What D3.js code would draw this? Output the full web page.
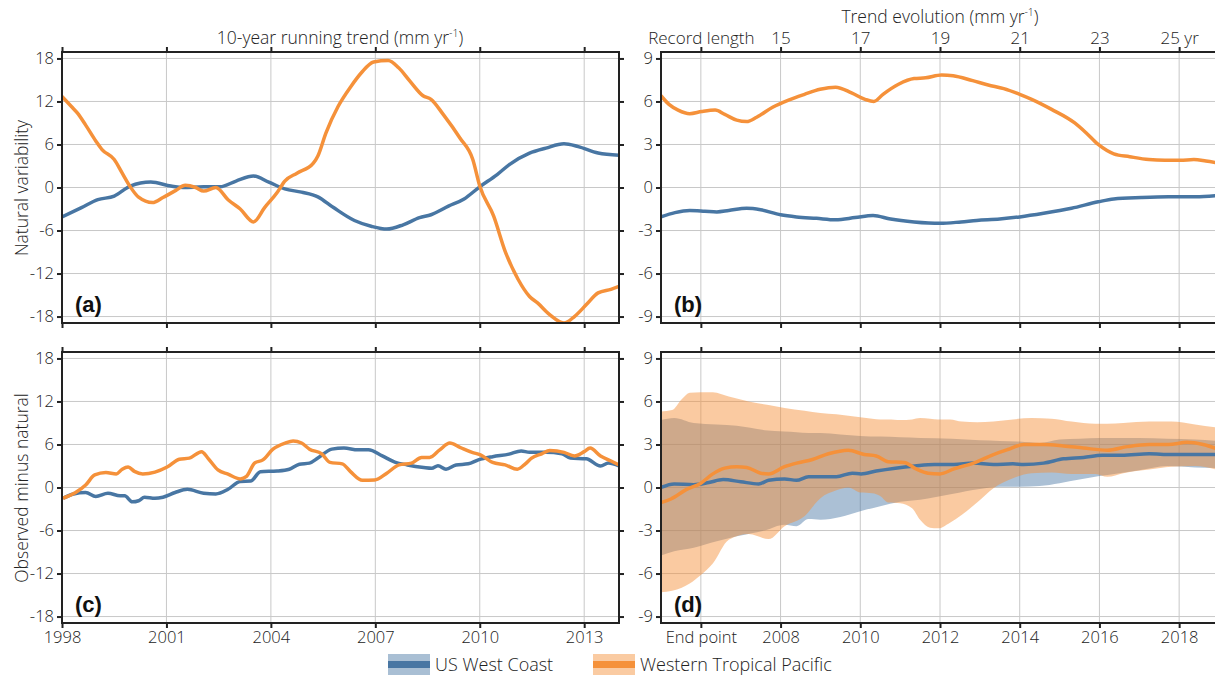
<!DOCTYPE html>
<html>
<head>
<meta charset="utf-8">
<script src="https://cdn.jsdelivr.net/npm/d3@7"></script>
<style>
  body { margin: 0; background: #fff; }
  text { font-family: "Open Sans", Lato, sans-serif; font-weight: 300; fill: #222; }
</style>
</head>
<body>
<script>
// ---- data ----
// panel (a): natural variability of 10-yr running trend
var aWestX = [1998.0,1998.56,1999.03,1999.5,1999.96,2000.55,2001.13,2001.48,2002.07,2002.54,2003.0,2003.5,2003.94,2004.4,2004.88,2005.35,2005.8,2006.4,2006.88,2007.33,2007.8,2008.27,2008.6,2009.1,2009.55,2010.0,2010.5,2010.85,2011.43,2011.9,2012.42,2012.83,2013.4,2014.0];
var aWestY = [-4.1,-2.8,-1.7,-1.2,0.2,0.75,0.2,0,0.1,0.1,0.9,1.6,0.75,-0.2,-0.65,-1.3,-2.8,-4.6,-5.4,-5.8,-5.2,-4.2,-3.8,-2.6,-1.6,0.1,1.8,3.2,4.8,5.5,6.1,5.7,4.8,4.5];
var aWtpX = [1998.0,1998.27,1998.44,1998.68,1998.97,1999.15,1999.5,1999.73,1999.96,2000.2,2000.6,2000.9,2001.27,2001.54,2001.84,2002.07,2002.42,2002.77,2003.12,2003.5,2003.82,2004.18,2004.4,2004.75,2005.22,2005.35,2005.58,2005.93,2006.3,2006.6,2006.95,2007.37,2007.67,2008.0,2008.37,2008.6,2008.95,2009.43,2009.8,2010.0,2010.4,2010.73,2011.1,2011.43,2011.66,2012.0,2012.42,2012.72,2013.07,2013.4,2013.77,2014.0];
var aWtpY = [12.7,11.3,10.4,8.7,6.5,5.3,3.9,2.0,0.1,-1.35,-2.1,-1.4,-0.4,0.3,0,-0.5,0,-1.7,-3.0,-4.8,-2.8,-0.7,0.9,2.0,3.4,4.4,7.6,11.3,14.1,16.0,17.5,17.7,16.7,14.8,12.8,12.3,10.2,6.9,3.9,0.2,-4.0,-8.9,-12.8,-15.2,-16.1,-17.7,-18.9,-18,-16.3,-14.7,-14.2,-13.8];

// panel (b): trend evolution vs record length (yr)
var bWestX = [12.0,12.35,12.72,13.1,13.4,13.7,14.15,14.5,15.0,15.4,15.9,16.38,16.87,17.32,17.76,18.35,19.0,19.53,19.92,20.5,21.0,21.6,22.3,22.97,23.36,24.05,24.73,25.42,26.0];
var bWestY = [-2.05,-1.75,-1.6,-1.65,-1.7,-1.6,-1.45,-1.55,-1.9,-2.05,-2.15,-2.25,-2.1,-1.95,-2.2,-2.4,-2.5,-2.4,-2.3,-2.2,-2.05,-1.8,-1.45,-1.0,-0.8,-0.7,-0.65,-0.65,-0.55];
var bWtpX = [12.0,12.2,12.43,12.72,13.02,13.36,13.6,13.9,14.15,14.4,14.8,15.2,15.6,15.99,16.38,16.78,17.12,17.34,17.57,17.96,18.35,18.64,19.04,19.33,19.82,20.21,20.6,21.0,21.3,21.8,22.38,22.67,22.97,23.36,23.76,24.24,24.64,25.03,25.37,25.67,26.0];
var bWtpY = [6.4,5.8,5.4,5.15,5.3,5.4,5.1,4.7,4.6,4.9,5.6,6.1,6.5,6.85,7.0,6.6,6.15,6.0,6.5,7.2,7.6,7.65,7.85,7.8,7.45,7.15,6.9,6.5,6.15,5.45,4.5,3.8,3.0,2.35,2.15,1.95,1.9,1.9,1.95,1.85,1.7];

// panel (c): observed minus natural
var cWestX = [1998.03,1998.33,1998.68,1998.97,1999.32,1999.67,1999.8,2000.02,2000.2,2000.37,2000.67,2000.9,2001.25,2001.6,2002.07,2002.42,2002.77,2003.12,2003.42,2003.7,2004.18,2004.53,2004.82,2005.11,2005.35,2005.75,2006.1,2006.5,2006.8,2007.2,2007.56,2007.92,2008.39,2008.62,2008.8,2009.03,2009.32,2009.67,2009.96,2010.37,2010.84,2011.19,2011.43,2011.9,2012.36,2012.6,2013.06,2013.47,2013.7,2014.0];
var cWestY = [-1.5,-0.9,-0.7,-1.25,-0.8,-1.15,-1.15,-2.0,-1.85,-1.35,-1.5,-1.35,-0.7,-0.25,-0.8,-0.9,-0.25,0.85,0.9,2.2,2.3,2.55,3.25,3.4,4.1,5.35,5.5,5.25,5.25,4.4,3.55,3.15,2.8,2.7,3.05,2.55,3.15,3.3,3.85,4.3,4.65,5.1,4.9,4.9,4.7,4.1,4.0,3.0,3.4,3.0];
var cWtpX = [1998.03,1998.39,1998.68,1998.94,1999.26,1999.56,1999.73,1999.9,2000.08,2000.32,2000.67,2001.02,2001.37,2001.66,2002.01,2002.19,2002.48,2002.77,2003.12,2003.3,2003.53,2003.77,2004.06,2004.41,2004.64,2004.88,2005.11,2005.46,2005.7,2006.05,2006.28,2006.63,2006.98,2007.33,2007.68,2008.04,2008.33,2008.56,2008.85,2009.14,2009.43,2009.78,2010.02,2010.37,2010.73,2011.08,2011.31,2011.49,2011.78,2012.01,2012.42,2012.72,2013.0,2013.17,2013.47,2013.77,2014.0];
var cWtpY = [-1.5,-0.7,0.35,1.75,2.1,1.9,2.55,2.85,2.25,1.9,2.15,2.85,3.95,4.1,5.0,4.1,2.45,1.85,1.2,1.55,3.4,3.85,5.35,6.2,6.5,6.2,5.35,4.7,3.5,3.3,2.25,1.0,1.05,2.0,3.15,3.4,4.2,4.2,5.25,6.2,5.6,4.9,4.55,3.5,3.15,2.55,3.3,4.1,4.7,5.15,4.9,4.4,5.0,5.5,4.4,3.7,3.15];

// panel (d): trend evolution vs end point, with spread bands
var dWestX = [2005.0,2005.33,2005.82,2006.2,2006.56,2007.0,2007.45,2007.7,2008.1,2008.4,2008.7,2009.4,2009.8,2010.02,2010.4,2010.88,2011.37,2011.86,2012.35,2012.84,2013.34,2013.83,2014.1,2014.6,2015.1,2015.6,2016.07,2016.56,2017.25,2017.8,2018.4,2019.0];
var dWestY = [0,0.25,0.2,0.35,0.55,0.4,0.25,0.5,0.6,0.5,0.75,0.75,1.0,0.95,1.15,1.35,1.5,1.6,1.6,1.7,1.6,1.65,1.6,1.7,2.0,2.1,2.25,2.25,2.35,2.3,2.3,2.3];
var dWtpX = [2005.0,2005.25,2005.63,2006.0,2006.3,2006.6,2006.9,2007.15,2007.5,2007.7,2008.1,2008.4,2008.8,2009.2,2009.7,2010.1,2010.4,2010.7,2011.1,2011.4,2011.7,2012.0,2012.35,2012.84,2013.34,2013.7,2014.1,2014.6,2015.1,2015.6,2016.2,2016.7,2017.25,2017.73,2018.2,2018.6,2019.0];
var dWtpY = [-1.05,-0.8,-0.15,0.3,0.95,1.35,1.45,1.4,1.0,0.95,1.45,1.7,1.95,2.35,2.6,2.3,2.2,1.8,1.75,1.3,1.0,0.95,1.3,1.7,2.3,2.65,3.0,3.0,2.9,2.75,2.6,2.85,3.0,3.0,3.15,3.0,2.65];

var dWestBandX = [2005.0,2005.33,2005.82,2006.4,2006.9,2007.6,2008.1,2008.4,2008.7,2009.0,2009.5,2010.0,2010.5,2011.0,2011.5,2012.3,2013.0,2013.5,2014.0,2014.5,2015.0,2015.5,2016.0,2016.5,2017.0,2017.7,2018.4,2019.0];
var dWestHi = [4.7,4.85,4.5,4.4,4.3,4.0,3.9,3.85,3.8,3.8,3.7,3.6,3.55,3.5,3.45,3.4,3.3,3.25,3.2,3.1,3.35,3.4,3.45,3.45,3.45,3.4,3.35,3.25];
var dWestLo = [-4.75,-4.45,-4.2,-3.75,-3.4,-3.0,-2.6,-2.7,-2.2,-2.25,-2.05,-1.65,-1.3,-1.0,-0.85,-0.45,-0.1,0.05,0.05,0.1,0.3,0.55,0.8,1.0,1.2,1.5,1.4,1.35];
var dWtpBandX = [2005.0,2005.28,2005.52,2005.72,2006.0,2006.3,2006.7,2007.2,2007.7,2008.1,2008.6,2009.0,2009.4,2009.7,2010.0,2010.3,2010.5,2010.7,2011.0,2011.3,2011.5,2011.75,2011.95,2012.25,2012.55,2012.93,2013.34,2013.83,2014.3,2014.8,2015.3,2015.9,2016.2,2016.6,2017.25,2017.8,2018.4,2019.0];
var dWtpHi = [5.3,5.4,6.15,6.6,6.65,6.65,6.35,6.0,5.75,5.55,5.35,5.2,5.1,5.0,4.9,4.8,4.75,4.75,4.7,4.75,4.85,4.8,4.75,4.75,4.6,4.55,4.6,4.75,4.85,4.8,4.6,4.45,4.45,4.5,4.6,4.6,4.4,4.15];
var dWtpLo = [-7.3,-7.2,-7.0,-6.7,-6.1,-5.3,-3.65,-3.25,-3.6,-2.7,-2.0,-0.75,-0.2,0,-0.35,-0.4,-0.6,-1.05,-1.1,-1.45,-2.25,-2.8,-2.85,-2.45,-1.9,-1.05,-0.05,0.65,1.0,1.05,0.95,0.95,0.75,1.0,1.25,1.45,1.5,1.2];

// ticks
var yearTicks = [1998, 2001, 2004, 2007, 2010, 2013];
var bigTicks = [-18, -12, -6, 0, 6, 12, 18];
var smallTicks = [-9, -6, -3, 0, 3, 6, 9];
var lenTicks = [13, 15, 17, 19, 21, 23, 25];
var lenLabels = ["Record length", "15", "17", "19", "21", "23", "25 yr"];
var endTicks = [2006, 2008, 2010, 2012, 2014, 2016, 2018];
var endLabels = ["End point", "2008", "2010", "2012", "2014", "2016", "2018"];

var blue = "#4876a3", orange = "#f5913a";
var FONT = "'Open Sans', Lato, sans-serif";

var svg = d3.select("body").append("svg").attr("width", 1215).attr("height", 677);

var L = {x0: 62, x1: 619}, R = {x0: 661, x1: 1219};
var T = {y0: 52, y1: 323}, B = {y0: 352, y1: 623};

function panel(name, xs, ys, domX, domY, xt, yt, opt) {
  var x = d3.scaleLinear().domain(domX).range([xs.x0, xs.x1]);
  var y = d3.scaleLinear().domain(domY).range([ys.y1, ys.y0]);
  var g = svg.append("g");
  g.append("clipPath").attr("id", "clip" + name).append("rect")
    .attr("x", xs.x0).attr("y", ys.y0).attr("width", xs.x1 - xs.x0).attr("height", ys.y1 - ys.y0);
  // grid
  g.selectAll(".gx").data(xt).enter().append("line")
    .attr("x1", d => x(d)).attr("x2", d => x(d)).attr("y1", ys.y0).attr("y2", ys.y1)
    .attr("stroke", "#c8c8c8").attr("stroke-width", 1);
  g.selectAll(".gy").data(yt).enter().append("line")
    .attr("x1", xs.x0).attr("x2", xs.x1).attr("y1", d => y(d)).attr("y2", d => y(d))
    .attr("stroke", "#c8c8c8").attr("stroke-width", 1);
  var plot = g.append("g").attr("clip-path", "url(#clip" + name + ")");

  function ax(axis, tr, labels, size) {
    var a = g.append("g").attr("transform", tr).call(axis.tickSize(5).tickPadding(3)
      .tickFormat(labels ? (d, i) => labels[i] : () => ""));
    a.select(".domain").remove();
    a.selectAll("line").attr("stroke", "#222").attr("stroke-width", 2);
    a.selectAll("text").style("font-size", size + "px").style("font-family", FONT)
      .style("font-weight", 300).attr("fill", "#222");
    return a;
  }
  ax(d3.axisBottom(x).tickValues(xt), "translate(0," + ys.y1 + ")", opt.bottom, 16.5);
  ax(d3.axisTop(x).tickValues(xt), "translate(0," + ys.y0 + ")", opt.top, 17);
  ax(d3.axisLeft(y).tickValues(yt), "translate(" + xs.x0 + ",0)", yt.map(String), 16.5);
  ax(d3.axisRight(y).tickValues(yt), "translate(" + xs.x1 + ",0)", null, 16);

  g.append("text").attr("x", xs.x0 + 13).attr("y", ys.y1 - 11)
    .style("font-family", "'Liberation Sans', Arial, sans-serif").style("font-weight", "bold")
    .style("font-size", "22px").style("fill", "#111").text("(" + name + ")");
  return {x: x, y: y, plot: plot, g: g, xs: xs, ys: ys};
}

function frame(p) {
  p.g.append("rect").attr("x", p.xs.x0).attr("y", p.ys.y0)
    .attr("width", p.xs.x1 - p.xs.x0).attr("height", p.ys.y1 - p.ys.y0)
    .attr("fill", "none").attr("stroke", "#222").attr("stroke-width", 2);
}

function drawLine(p, xsArr, ysArr, color) {
  var pts = xsArr.map((d, i) => [d, ysArr[i]]);
  p.plot.append("path").datum(pts)
    .attr("fill", "none").attr("stroke", color).attr("stroke-width", 3.5)
    .attr("stroke-linejoin", "round")
    .attr("d", d3.line().x(d => p.x(d[0])).y(d => p.y(d[1])).curve(d3.curveMonotoneX));
}

function drawBand(p, xsArr, lo, hi, color, op) {
  var pts = xsArr.map((d, i) => [d, lo[i], hi[i]]);
  p.plot.append("path").datum(pts)
    .attr("fill", color).attr("fill-opacity", op)
    .attr("d", d3.area().x(d => p.x(d[0])).y0(d => p.y(d[1])).y1(d => p.y(d[2])).curve(d3.curveMonotoneX));
}

// (a)
var pa = panel("a", L, T, [1998, 2014], [-18.9, 18.9], yearTicks, bigTicks, {});
drawLine(pa, aWestX, aWestY, blue);
drawLine(pa, aWtpX, aWtpY, orange);
frame(pa);

// (b)
var pb = panel("b", R, T, [12, 26], [-9.45, 9.45], lenTicks, smallTicks, {top: lenLabels});
drawLine(pb, bWestX, bWestY, blue);
drawLine(pb, bWtpX, bWtpY, orange);
frame(pb);

// (c)
var pc = panel("c", L, B, [1998, 2014], [-18.9, 18.9], yearTicks, bigTicks, {bottom: yearTicks.map(String)});
drawLine(pc, cWestX, cWestY, blue);
drawLine(pc, cWtpX, cWtpY, orange);
frame(pc);

// (d)
var pd = panel("d", R, B, [2005, 2019], [-9.45, 9.45], endTicks, smallTicks, {bottom: endLabels});
drawBand(pd, dWestBandX, dWestLo, dWestHi, blue, 0.46);
drawBand(pd, dWtpBandX, dWtpLo, dWtpHi, orange, 0.48);
drawLine(pd, dWestX, dWestY, blue);
drawLine(pd, dWtpX, dWtpY, orange);
frame(pd);

// titles
function unitTitle(x, y, pre) {
  var t = svg.append("text").attr("x", x).attr("y", y).attr("text-anchor", "middle").style("font-size", "17.5px");
  t.append("tspan").text(pre + " (mm yr");
  t.append("tspan").attr("dy", -7).style("font-size", "10.5px").text("-1");
  t.append("tspan").attr("dy", 7).text(")");
}
unitTitle(340, 44, "10-year running trend");
unitTitle(940, 23, "Trend evolution");

svg.append("text").attr("transform", "translate(22,188) rotate(-90)").attr("text-anchor", "middle")
  .attr("dy", "0.35em").style("font-size", "17.5px").text("Natural variability");
svg.append("text").attr("transform", "translate(22,488) rotate(-90)").attr("text-anchor", "middle")
  .attr("dy", "0.35em").style("font-size", "17.5px").text("Observed minus natural");

// legend
var legend = [{name: "US West Coast", c: blue, x: 388}, {name: "Western Tropical Pacific", c: orange, x: 593}];
var lg = svg.selectAll(".lg").data(legend).enter().append("g");
lg.append("rect").attr("x", d => d.x).attr("y", 654).attr("width", 42).attr("height", 21)
  .attr("fill", d => d.c).attr("fill-opacity", 0.47);
lg.append("rect").attr("x", d => d.x).attr("y", 661).attr("width", 42).attr("height", 7).attr("fill", d => d.c);
lg.append("text").attr("x", d => d.x + 47).attr("y", 671).style("font-size", "18px").text(d => d.name);
</script>
</body>
</html>
